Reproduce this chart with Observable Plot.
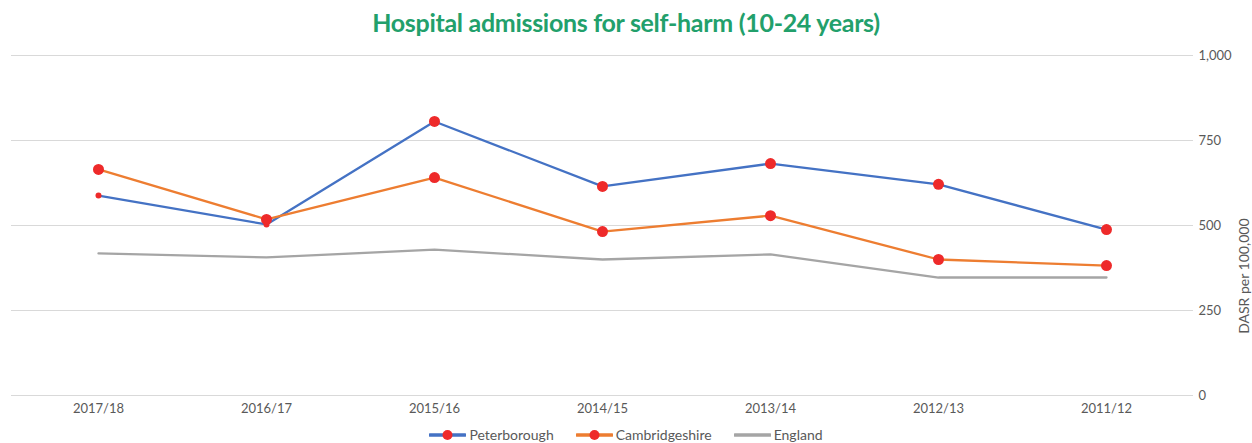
<!DOCTYPE html>
<html><head><meta charset="utf-8">
<script src="https://cdn.jsdelivr.net/npm/d3@7"></script>
<script src="https://cdn.jsdelivr.net/npm/@observablehq/plot@0.6"></script>
<style>
body{margin:0;background:#fff;font-family:Lato,sans-serif;}
#wrap{position:relative;width:1252px;height:443px;overflow:hidden;}
#title{position:absolute;top:0;left:0;width:1252px;height:40px;text-align:center;font-weight:bold;font-size:25px;color:#22a06b;line-height:44px;letter-spacing:-0.3px;}
#chart{position:absolute;top:40px;left:0;}
#legend{position:absolute;top:426px;left:0;width:1252px;display:flex;justify-content:center;gap:22px;font-size:14px;color:#595959;}
.item{display:flex;align-items:center;gap:3px;}
</style></head><body>
<div id="wrap">
<div id="title">Hospital admissions for self-harm (10-24 years)</div>
<div id="chart"></div>
<div id="legend"></div>
</div>
<script>
const years = ["2017/18","2016/17","2015/16","2014/15","2013/14","2012/13","2011/12"];
const peterborough = [588, 503, 806, 615, 682, 621, 488];
const cambridgeshire = [665, 518, 641, 482, 529, 400, 382];
const england = [418, 406, 429, 400, 415, 347, 347];
const seriesNames = ["Peterborough","Cambridgeshire","England"];
const seriesColors = ["#4472C4","#ED7D31","#A5A5A5"];
const yTicks = [0, 250, 500, 750, 1000];

const rows = [];
[peterborough, cambridgeshire, england].forEach((arr, i) => {
  arr.forEach((v, j) => rows.push({series: seriesNames[i], year: years[j], value: v, idx: j}));
});
const markerRows = rows.filter(d => d.series !== "England");
const bigMarkers = markerRows.filter(d => !(d.series === "Peterborough" && d.idx < 2));
const smallMarkers = markerRows.filter(d => d.series === "Peterborough" && d.idx < 2);

const chart = Plot.plot({
  width: 1252, height: 380,
  marginTop: 15, marginBottom: 25, marginLeft: 11, marginRight: 59,
  style: {fontFamily: "Lato, sans-serif", fontSize: "13px", color: "#595959", background: "#fff"},
  x: {type: "point", domain: years, padding: 0.5, label: null},
  y: {domain: [0, 1000], ticks: yTicks, label: null},
  color: {domain: seriesNames, range: seriesColors},
  marks: [
    Plot.ruleY(yTicks, {stroke: "#D9D9D9", strokeWidth: 1.2}),
    Plot.axisY({anchor: "right", ticks: yTicks, tickSize: 0, tickPadding: 5, tickFormat: d3.format(","), textAnchor: "start", fill: "#595959", fontSize: 13}),
    Plot.axisX({tickSize: 0, tickPadding: 8, fill: "#595959", fontSize: 13}),
    Plot.lineY(rows, {x: "year", y: "value", z: "series", stroke: "series", strokeWidth: 2.3}),
    Plot.dot(smallMarkers, {x: "year", y: "value", r: 3, fill: "#EE2A2A", stroke: "none"}),
    Plot.dot(bigMarkers, {x: "year", y: "value", r: 5.5, fill: "#EE2A2A", stroke: "none"}),
    Plot.text(["DASR per 100,000"], {frameAnchor: "right", dx: 51, dy: -7, rotate: -90, fill: "#595959", fontSize: 14})
  ]
});
document.getElementById("chart").appendChild(chart);

const legend = document.getElementById("legend");
seriesNames.forEach((name, i) => {
  const item = document.createElement("div");
  item.className = "item";
  const hasDot = name !== "England";
  item.innerHTML = `<svg width="37" height="12"><line x1="1" y1="6" x2="36" y2="6" stroke="${seriesColors[i]}" stroke-width="3.5" stroke-linecap="round"/>${hasDot ? '<circle cx="18.5" cy="6" r="5" fill="#EE2A2A"/>' : ''}</svg><span>${name}</span>`;
  legend.appendChild(item);
});
</script>
</body></html>
